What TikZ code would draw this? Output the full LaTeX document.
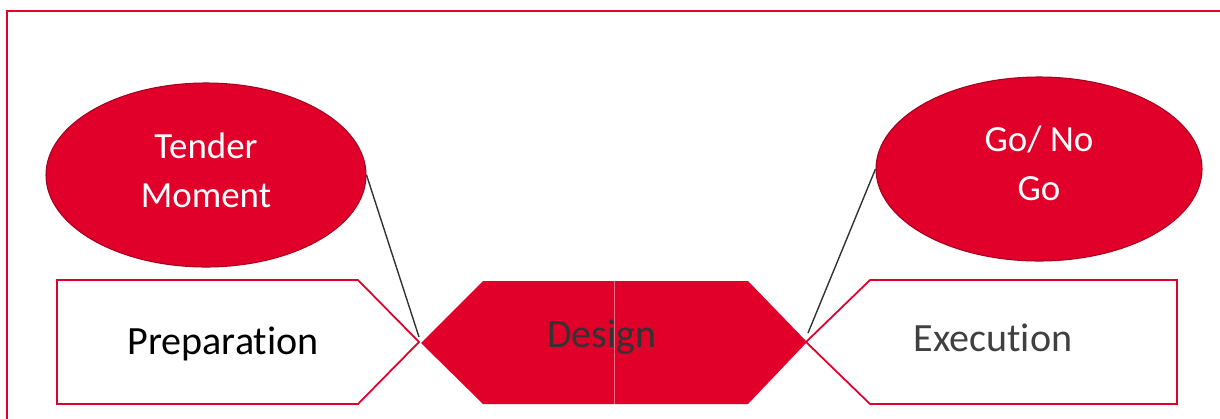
\documentclass[tikz,border=0pt]{standalone}
\usepackage{fontspec}
\setmainfont{Carlito}[Ligatures=NoCommon]
\usetikzlibrary{shapes.geometric}
\usetikzlibrary{positioning}
\definecolor{phasered}{RGB}{224,0,42}
\definecolor{rimred}{RGB}{165,0,32}
\definecolor{seampink}{RGB}{236,110,130}

\begin{document}
\begin{tikzpicture}[
  bubble/.style={ellipse,fill=phasered,draw=rimred,line width=0.6pt,text=white,align=center,font=\fontsize{21}{28}\selectfont},
  phasebox/.style={draw=phasered,line width=1pt,fill=white},
  phasetext/.style={font=\fontsize{22.8}{27}\selectfont},
  pin/.style={draw=black!80,line width=0.8pt}]
\useasboundingbox (0,0) rectangle (24.4,8.36);
\clip (0,0) rectangle (24.4,8.36);
\draw[phasered,line width=1.1pt] (0.14,-0.3) rectangle (24.7,8.14);

\draw[phasebox] (1.14,2.76) -- (7.16,2.76) -- (8.38,1.52) -- (7.16,0.28) -- (1.14,0.28) -- cycle;
\draw[phasebox] (16.12,1.52) -- (17.40,2.76) -- (23.54,2.76) -- (23.54,0.28) -- (17.40,0.28) -- cycle;
\fill[phasered] (8.42,1.50) -- (9.66,2.74) -- (14.96,2.74) -- (16.14,1.52) -- (14.96,0.28) -- (9.66,0.28) -- cycle;
\draw[seampink,line width=0.4pt] (12.28,2.74) -- (12.28,0.28);

\node[phasetext,text=black] (prep) at (4.46,1.48) {Preparation};
\node[phasetext,text=black!80] (design) at (12.04,1.62) {Design};
\node[phasetext,text=black!75] (exec) at (19.86,1.60) {Execution};

\node[bubble,minimum width=6.4cm,minimum height=3.68cm] (tender) at (4.12,4.86) {};
\node[text=white,align=center,font=\fontsize{21}{28}\selectfont] (tenderlbl) at (4.12,4.96) {Tender\\Moment};
\node[bubble,minimum width=6.52cm,minimum height=3.68cm] (gonogo) at (20.78,4.98) {};
\node[text=white,align=center,font=\fontsize{21}{28}\selectfont] (gonogolbl) at (20.78,5.10) {Go/ No\\Go};

\coordinate (tenderpin) at (8.38,1.62);
\coordinate (gonogopin) at (16.16,1.70);
\draw[pin] (tender.east) -- (tenderpin);
\draw[pin] (gonogo.west) -- (gonogopin);
\end{tikzpicture}
\end{document}
